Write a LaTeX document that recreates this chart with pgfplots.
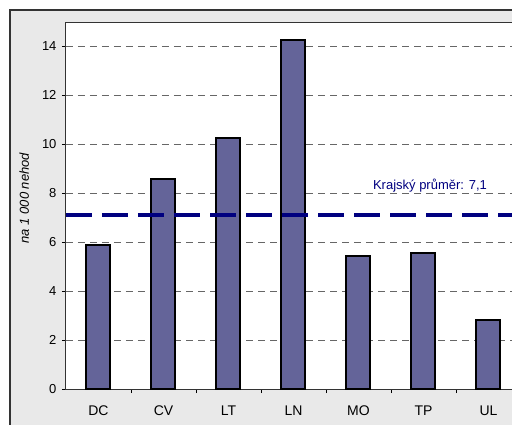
\documentclass[border=0pt]{standalone}
\usepackage{pgfplots}
\pgfplotsset{compat=1.18}
\usepackage{fontspec}
\setmainfont{Liberation Sans}
\definecolor{barfill}{HTML}{646499}
\definecolor{navyline}{HTML}{000080}
\definecolor{chartbg}{HTML}{E9E9E9}
\begin{document}
\begin{tikzpicture}[x=1pt,y=1pt]
\clip (0,0) rectangle (512,424);
% outer chart area
\fill[chartbg, draw=black!80, line width=1.5pt] (10,-20) rectangle (600,414);
\begin{axis}[
    at={(66pt,35pt)},
    anchor=south west,
    scale only axis,
    width=455pt,
    height=367pt,
    xmin=-0.5, xmax=6.5,
    ymin=0, ymax=15,
    axis background/.style={fill=white},
    axis line style={black!80, line width=1pt},
    xtick={0,...,6},
    xticklabels={DC,CV,LT,LN,MO,TP,UL},
    minor xtick={0.5,1.5,...,5.5},
    ytick={0,2,...,14},
    tick align=outside,
    xtick pos=bottom, ytick pos=left,
    major tick length=4pt,
    minor tick length=4pt,
    major x tick style={draw=none},
    tick style={black, line width=0.8pt},
    ymajorgrids,
    grid style={black!60, line width=0.8pt, dash pattern=on 7pt off 5pt},
    /pgf/number format/assume math mode=true,
    tick label style={font=\fontsize{13}{15}\selectfont},
    xticklabel style={yshift=-9pt, font=\fontsize{14}{16}\selectfont},
    yticklabel style={xshift=-2pt},
    ylabel={na 1 000 nehod},
    ylabel style={font=\fontsize{13}{15}\selectfont\itshape, at={(axis description cs:-0.092,0.52)}, anchor=center},
]
\addplot[ybar, bar width=24pt, fill=barfill, draw=black, line width=2pt]
    coordinates {(0,5.9) (1,8.6) (2,10.25) (3,14.25) (4,5.45) (5,5.55) (6,2.8)};
\addplot[navyline, line width=4pt, dash pattern=on 26pt off 10pt]
    coordinates {(-0.5,7.1) (6.5,7.1)};
\node[navyline, font=\fontsize{13}{15}\selectfont] at (axis cs:5.1,8.3) {Krajský průměr: 7,1};
\end{axis}
\end{tikzpicture}
\end{document}
